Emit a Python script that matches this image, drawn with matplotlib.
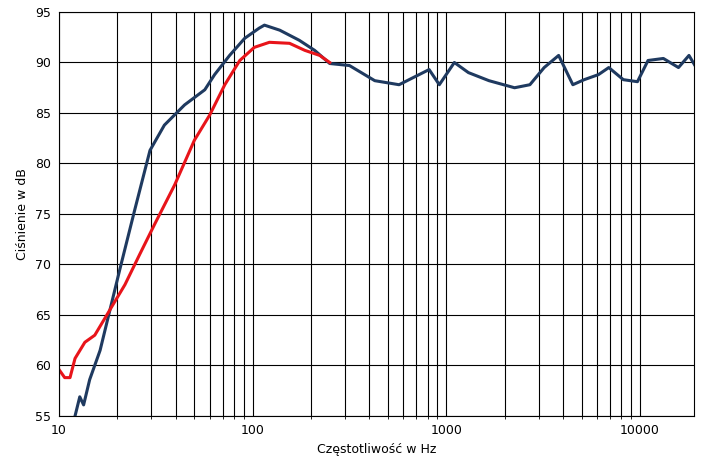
import numpy as np
import matplotlib
matplotlib.use("Agg")
import matplotlib.pyplot as plt
from matplotlib.ticker import FixedLocator, NullFormatter

blue_f = [12.1,12.8,13.4,14.4,16.3,20.6,24.6,29.5,35,44.5,56.6,63.6,76,91,108,115,138,174,209,250,316,427,570,815,920,1100,1300,1660,2250,2700,3200,3800,4500,5150,6100,6900,8200,9700,11000,13200,15800,17900,19500]
blue_db = [55,56.9,56.1,58.6,61.5,69.5,75.4,81.3,83.8,85.8,87.3,88.8,90.7,92.4,93.4,93.7,93.2,92.2,91.2,89.9,89.7,88.2,87.8,89.3,87.8,90,89,88.2,87.5,87.8,89.5,90.7,87.8,88.3,88.8,89.5,88.3,88.1,90.2,90.4,89.5,90.7,89.5]
red_f = [10,10.7,11.4,12.1,13.6,15.3,18.3,21.9,26.1,31.2,39.6,50,60,71.8,85.8,102,122,155,186,222,250]
red_db = [59.6,58.8,58.8,60.7,62.3,63,65.5,68,71,74,77.9,82.3,84.8,87.8,90.2,91.5,92,91.9,91.2,90.7,90]
xticks = [10,100,1000,10000]
xticklabels = ["10","100","1000","10000"]

fig = plt.figure(figsize=(7.04,4.71), dpi=100)
ax = fig.add_axes([59/704, 1-416/471, 635/704, 404/471])
ax.set_xscale("log")
ax.set_xlim(10, 19000)
ax.set_ylim(55, 95)
minor = [m*10**d for d in range(1,5) for m in range(2,10) if m*10**d < 19000]
ax.xaxis.set_major_locator(FixedLocator(xticks))
ax.set_xticklabels(xticklabels)
ax.xaxis.set_minor_locator(FixedLocator(minor))
ax.xaxis.set_minor_formatter(NullFormatter())
ax.set_yticks(range(55,96,5))
ax.grid(True, which="both", axis="x", color="black", lw=0.8)
ax.grid(True, which="major", axis="y", color="black", lw=0.8)
ax.plot(blue_f, blue_db, color="#1f3a60", lw=2.2)
ax.plot(red_f, red_db, color="#e8141a", lw=2.2)
ax.tick_params(labelsize=9, length=0, pad=6)
for s in ax.spines.values():
    s.set_color("black")
ax.set_xlabel("Częstotliwość w Hz", fontsize=9)
ax.set_ylabel("Ciśnienie w dB", fontsize=9)
fig.savefig("out.png", dpi=100)
